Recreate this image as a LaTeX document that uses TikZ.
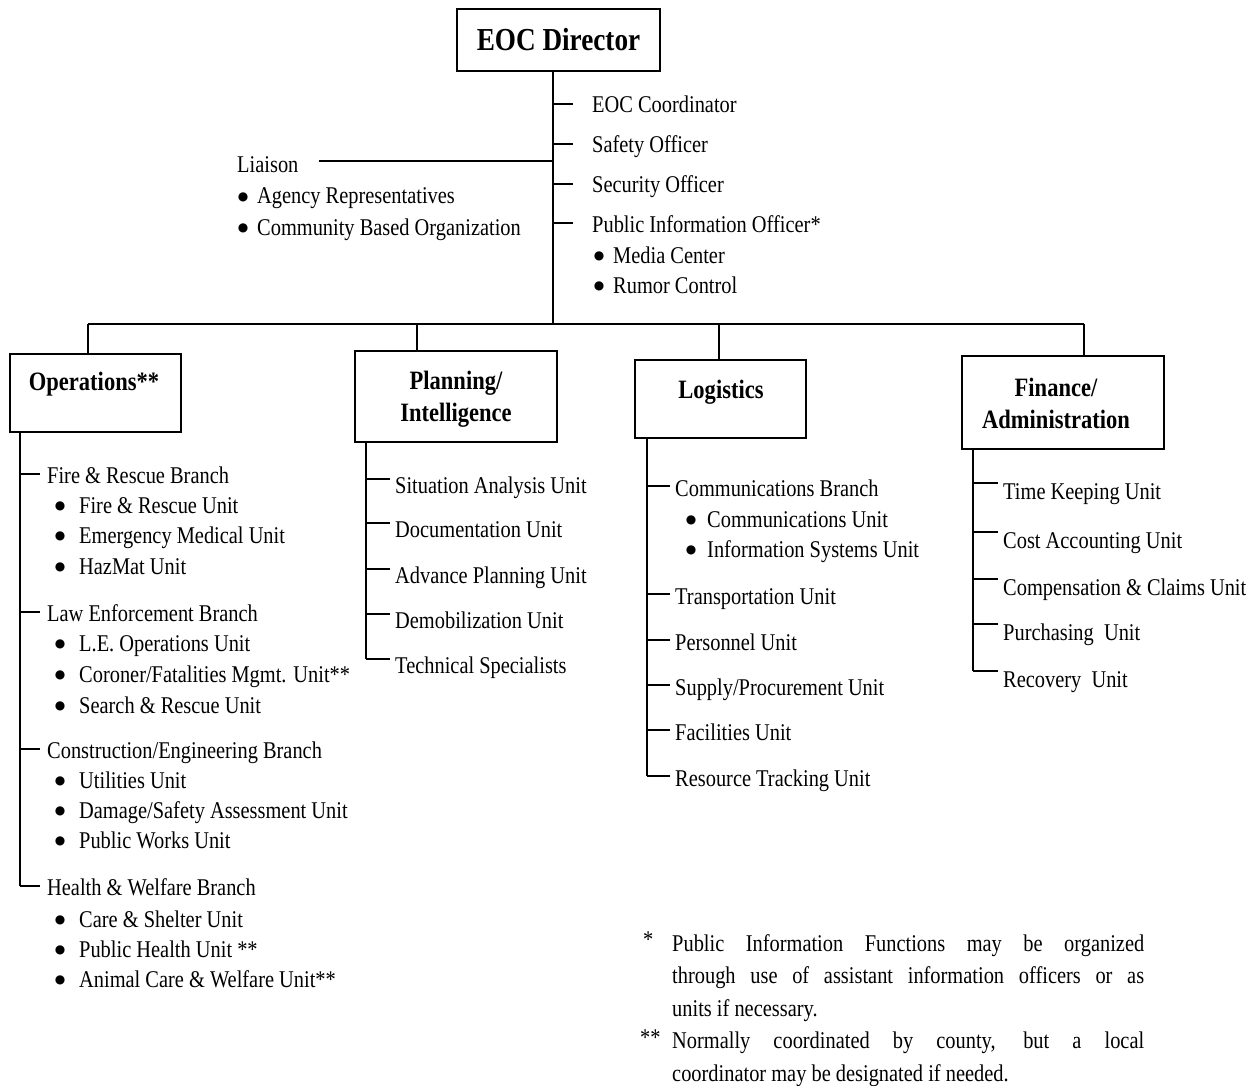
\documentclass[tikz,border=0pt]{standalone}
\usepackage{fontspec}
\setmainfont{Liberation Serif}[FakeStretch=0.85]
\newfontfamily\dejavu{DejaVu Sans}
\newcommand\bigbul{\hspace{1.2pt}\raisebox{3.2pt}{\dejavu\fontsize{12}{12}\selectfont ●}}
\newcommand\bitem[2]{\makebox[#1][l]{\bigbul}#2}
\begin{document}
\begin{tikzpicture}[x=1pt,y=-1pt,
  every node/.style={font=\fontsize{24}{31}\selectfont},
  ln/.style={line width=2.2pt},
  box/.style={draw,line width=2.2pt,inner sep=0pt},
  ttl/.style={font=\fontsize{26.5}{32}\selectfont\bfseries,inner sep=0pt,anchor=base,align=center},
  itm/.style={anchor=base west,inner ysep=0pt,inner xsep=5pt,text depth=1pt,text height=#1},
  itm/.default=19pt,
  bul/.style={anchor=base west,inner sep=0pt},
  fnote/.style={anchor=base west,inner sep=0pt,align=left,font=\fontsize{24}{32.5}\selectfont},
]
\useasboundingbox[fill=white] (0,0) rectangle (1260,1086);

% ---------- Director ----------
\node[box,minimum width=203pt,minimum height=62pt,font=\fontsize{32}{38}\selectfont\bfseries] (dir) at (558.5,40) {EOC Director};
\coordinate (bus) at (553,324);
\draw[ln] (dir.south -| bus) -- (bus);

% ---------- staff ----------
\node[itm,inner xsep=19pt] (eocc) at (573,113) {EOC Coordinator};
\node[itm,inner xsep=19pt] (safety) at (573,153) {Safety Officer};
\node[itm,inner xsep=19pt] (security) at (573,193) {Security Officer};
\node[itm,inner xsep=19pt] (pio) at (573,232) {Public Information Officer*};
\node[bul] (media) at (592.5,263) {\bitem{20.5pt}{Media Center}};
\node[bul] (rumor) at (592.5,293) {\bitem{20.5pt}{Rumor Control}};
\foreach \n in {eocc,safety,security,pio} \draw[ln] (bus |- \n.west) -- (\n.west);

\node[itm=25pt,inner xsep=20pt] (liaison) at (217,173) {Liaison};
\draw[ln] (liaison.east) -- (liaison.east -| bus);
\node[bul] (agency) at (236.5,204) {\bitem{20.5pt}{Agency Representatives}};
\node[bul] (cbo) at (236.5,235) {\bitem{20.5pt}{Community Based Organization}};

% ---------- sections ----------
\coordinate (b1) at (88,324);
\coordinate (b2) at (417,324);
\coordinate (b3) at (719,324);
\coordinate (b4) at (1084,324);
\draw[ln] (b1) -- (b4);

\node[box,minimum width=171pt,minimum height=78pt] (ops) at (95.5,393) {};
\node[box,minimum width=202pt,minimum height=91pt] (plan) at (456,396.5) {};
\node[box,minimum width=171pt,minimum height=78pt] (log) at (720.5,399) {};
\node[box,minimum width=202pt,minimum height=93pt] (fin) at (1063,402.5) {};
\draw[ln] (b1) -- (b1 |- ops.north);
\draw[ln] (b2) -- (b2 |- plan.north);
\draw[ln] (b3) -- (b3 |- log.north);
\draw[ln] (b4) -- (b4 |- fin.north);

\node[ttl] (opsT) at (94,390) {Operations**};
\node[ttl] (planT) at (456,421) {Planning/\\Intelligence};
\node[ttl] (logT) at (721,398) {Logistics};
\node[ttl] (finT) at (1056,428) {Finance/\\Administration};

% ---------- Operations ----------
\coordinate (opsS) at (20,432);
\node[itm,inner xsep=7pt] (fr) at (40,483) {Fire \& Rescue Branch};
\node[bul] (fr1) at (53.5,513) {\bitem{25.5pt}{Fire \& Rescue Unit}};
\node[bul] (fr2) at (53.5,543) {\bitem{25.5pt}{Emergency Medical Unit}};
\node[bul] (fr3) at (53.5,574) {\bitem{25.5pt}{HazMat Unit}};
\node[itm,inner xsep=7pt] (le) at (40,621) {Law Enforcement Branch};
\node[bul] (le1) at (53.5,651) {\bitem{25.5pt}{L.E. Operations Unit}};
\node[bul] (le2) at (53.5,682) {\bitem{25.5pt}{Coroner/Fatalities Mgmt. Unit**}};
\node[bul] (le3) at (53.5,713) {\bitem{25.5pt}{Search \& Rescue Unit}};
\node[itm,inner xsep=7pt] (ce) at (40,758) {Construction/Engineering Branch};
\node[bul] (ce1) at (53.5,788) {\bitem{25.5pt}{Utilities Unit}};
\node[bul] (ce2) at (53.5,818) {\bitem{25.5pt}{Damage/Safety Assessment Unit}};
\node[bul] (ce3) at (53.5,848) {\bitem{25.5pt}{Public Works Unit}};
\node[itm,inner xsep=7pt] (hw) at (40,895) {Health \& Welfare Branch};
\node[bul] (hw1) at (53.5,927) {\bitem{25.5pt}{Care \& Shelter Unit}};
\node[bul] (hw2) at (53.5,957) {\bitem{25.5pt}{Public Health Unit **}};
\node[bul] (hw3) at (53.5,987) {\bitem{25.5pt}{Animal Care \& Welfare Unit**}};
\draw[ln] (opsS) -- (opsS |- hw.west);
\foreach \n in {fr,le,ce,hw} \draw[ln] (opsS |- \n.west) -- (\n.west);

% ---------- Planning ----------
\coordinate (plS) at (366,442);
\node[itm=29pt] (p1) at (390,493) {Situation Analysis Unit};
\node[itm=29pt] (p2) at (390,537) {Documentation Unit};
\node[itm=29pt] (p3) at (390,583) {Advance Planning Unit};
\node[itm=29pt] (p4) at (390,628) {Demobilization Unit};
\node[itm=29pt] (p5) at (390,673) {Technical Specialists};
\draw[ln] (plS) -- (plS |- p5.west);
\foreach \n in {p1,p2,p3,p4,p5} \draw[ln] (plS |- \n.west) -- (\n.west);

% ---------- Logistics ----------
\coordinate (logS) at (647,438);
\node[itm=21pt] (l1) at (670,496) {Communications Branch};
\node[bul] (l1a) at (684.5,527) {\bitem{22.5pt}{Communications Unit}};
\node[bul] (l1b) at (684.5,557) {\bitem{22.5pt}{Information Systems Unit}};
\node[itm=21pt] (l2) at (670,604) {Transportation Unit};
\node[itm=21pt] (l3) at (670,650) {Personnel Unit};
\node[itm=21pt] (l4) at (670,695) {Supply/Procurement Unit};
\node[itm=21pt] (l5) at (670,740) {Facilities Unit};
\node[itm=21pt] (l6) at (670,786) {Resource Tracking Unit};
\draw[ln] (logS) -- (logS |- l6.west);
\foreach \n in {l1,l2,l3,l4,l5,l6} \draw[ln] (logS |- \n.west) -- (\n.west);

% ---------- Finance ----------
\coordinate (finS) at (973,449);
\node[itm=33pt] (f1) at (998,499) {Time Keeping Unit};
\node[itm=33pt] (f2) at (998,548) {Cost Accounting Unit};
\node[itm=33pt] (f3) at (998,595) {Compensation \& Claims Unit};
\node[itm=33pt] (f4) at (998,640) {Purchasing\ \ Unit};
\node[itm=33pt] (f5) at (998,687) {Recovery\ \ Unit};
\draw[ln] (finS) -- (finS |- f5.west);
\foreach \n in {f1,f2,f3,f4,f5} \draw[ln] (finS |- \n.west) -- (\n.west);

% ---------- Footnotes ----------
\node[fnote] (m1) at (643,947) {*};
\node[fnote] (fn1) at (672,1016) {\makebox[472pt][s]{Public Information Functions may be organized}\\\makebox[472pt][s]{through use of assistant information officers or as}\\units if necessary.};
\node[fnote] (m2) at (640,1045) {**};
\node[fnote] (fn2) at (672,1081) {\makebox[472pt][s]{Normally coordinated by county, but a local}\\coordinator may be designated if needed.};
\end{tikzpicture}
\end{document}
